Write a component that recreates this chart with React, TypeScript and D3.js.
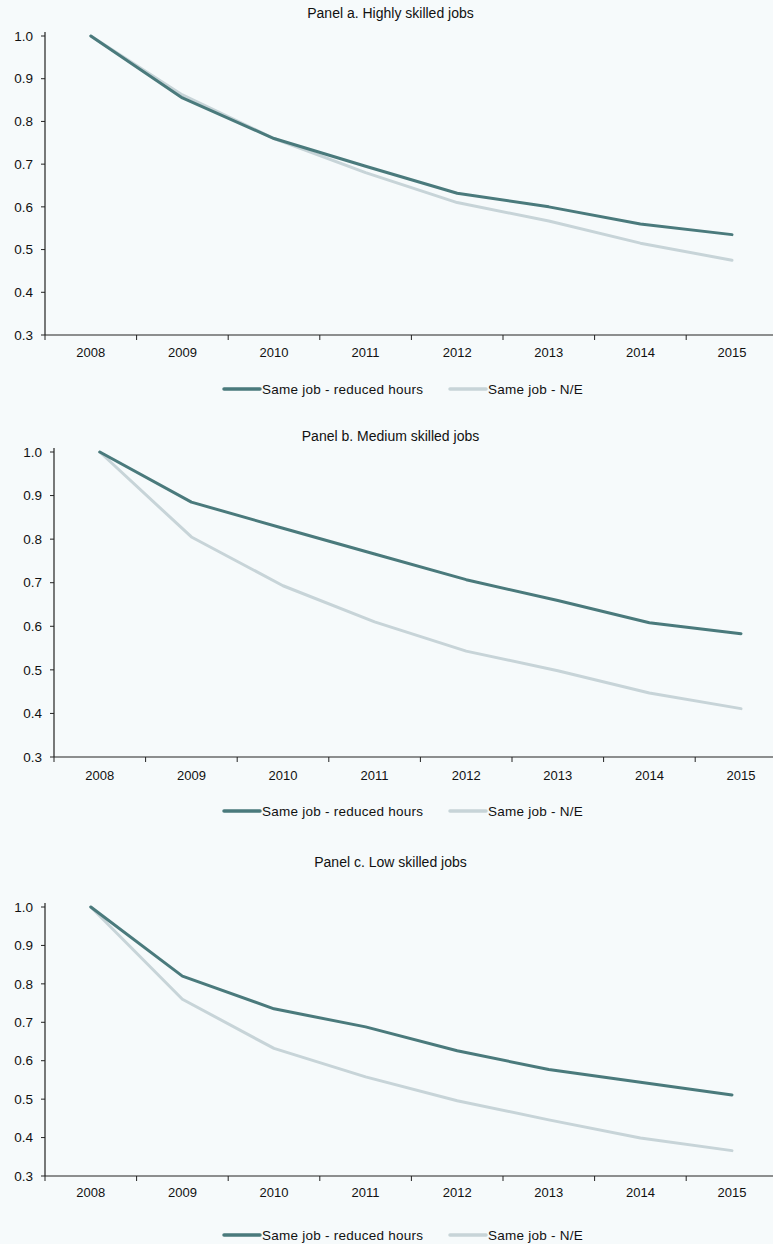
import React, { useEffect, useRef } from "react";
import * as d3 from "d3";

const years = ["2008", "2009", "2010", "2011", "2012", "2013", "2014", "2015"];
const yTicks = [0.3, 0.4, 0.5, 0.6, 0.7, 0.8, 0.9, 1.0];
const seriesNames = ["Same job - reduced hours", "Same job - N/E"];

const highReduced = [1.0, 0.855, 0.76, 0.695, 0.632, 0.6, 0.56, 0.535];
const highNE = [1.0, 0.862, 0.76, 0.68, 0.61, 0.567, 0.515, 0.475];
const medReduced = [1.0, 0.885, 0.825, 0.766, 0.707, 0.659, 0.608, 0.583];
const medNE = [1.0, 0.805, 0.693, 0.61, 0.543, 0.498, 0.447, 0.411];
const lowReduced = [1.0, 0.82, 0.735, 0.688, 0.626, 0.577, 0.544, 0.511];
const lowNE = [1.0, 0.76, 0.632, 0.558, 0.496, 0.446, 0.399, 0.366];

const titles = [
  "Panel a. Highly skilled jobs",
  "Panel b. Medium skilled jobs",
  "Panel c. Low skilled jobs",
];

const panelData = [
  [highReduced, highNE],
  [medReduced, medNE],
  [lowReduced, lowNE],
];

// layout (positions only)
const layouts = [
  { titleY: 18, yTop: 36, yBottom: 335, left: 45, yearY: 357, legendY: 389 },
  { titleY: 441, yTop: 452, yBottom: 757, left: 54, yearY: 780, legendY: 811 },
  { titleY: 867, yTop: 907, yBottom: 1176, left: 45, yearY: 1197, legendY: 1235 },
];

const COLORS = ["#4a7a7c", "#c7d4d8"];
const BG = "#f6fafb";
const W = 773;
const H = 1244;
const BAND = 91.6;
const FONT = "'Liberation Sans', Arial, sans-serif";

export default function App() {
  const ref = useRef<SVGSVGElement | null>(null);

  useEffect(() => {
    const svg = d3.select(ref.current);
    svg.selectAll("*").remove();
    svg.append("rect").attr("width", W).attr("height", H).attr("fill", BG);

    layouts.forEach((lay, pi) => {
      const g = svg.append("g");
      const x = d3
        .scaleBand()
        .domain(years)
        .range([lay.left, lay.left + BAND * years.length]);
      const y = d3.scaleLinear().domain([0.3, 1.0]).range([lay.yBottom, lay.yTop]);

      // title
      g.append("text")
        .attr("x", W / 2 + 4)
        .attr("y", lay.titleY)
        .attr("text-anchor", "middle")
        .attr("font-family", FONT)
        .attr("font-size", 14)
        .attr("fill", "#111")
        .text(titles[pi]);

      // y axis
      g.append("line")
        .attr("x1", lay.left).attr("x2", lay.left)
        .attr("y1", lay.yTop - 4).attr("y2", lay.yBottom)
        .attr("stroke", "#222").attr("stroke-width", 1.2);
      yTicks.forEach((t) => {
        g.append("line")
          .attr("x1", lay.left - 4).attr("x2", lay.left)
          .attr("y1", y(t)).attr("y2", y(t))
          .attr("stroke", "#222").attr("stroke-width", 1);
        g.append("text")
          .attr("x", lay.left - 12)
          .attr("y", y(t))
          .attr("dy", "0.35em")
          .attr("text-anchor", "end")
          .attr("font-family", FONT)
          .attr("font-size", 13.5)
          .attr("fill", "#111")
          .text(d3.format(".1f")(t));
      });

      // x axis
      g.append("line")
        .attr("x1", lay.left).attr("x2", W)
        .attr("y1", lay.yBottom).attr("y2", lay.yBottom)
        .attr("stroke", "#222").attr("stroke-width", 1.2);
      years.forEach((yr) => {
        const bx = x(yr) as number;
        g.append("line")
          .attr("x1", bx).attr("x2", bx)
          .attr("y1", lay.yBottom).attr("y2", lay.yBottom + 5)
          .attr("stroke", "#222").attr("stroke-width", 1);
        g.append("text")
          .attr("x", bx + x.bandwidth() / 2)
          .attr("y", lay.yearY)
          .attr("text-anchor", "middle")
          .attr("font-family", FONT)
          .attr("font-size", 13)
          .attr("fill", "#111")
          .text(yr);
      });

      // lines (light first, dark on top)
      const line = d3
        .line<number>()
        .x((_, i) => (x(years[i]) as number) + x.bandwidth() / 2)
        .y((d) => y(d))
        .curve(d3.curveLinear);
      [1, 0].forEach((si) => {
        g.append("path")
          .attr("d", line(panelData[pi][si]) || "")
          .attr("fill", "none")
          .attr("stroke", COLORS[si])
          .attr("stroke-width", 3)
          .attr("stroke-linecap", "round")
          .attr("stroke-linejoin", "round");
      });

      // legend
      const legX = [224, 450];
      seriesNames.forEach((name, si) => {
        g.append("line")
          .attr("x1", legX[si]).attr("x2", legX[si] + 36)
          .attr("y1", lay.legendY).attr("y2", lay.legendY)
          .attr("stroke", COLORS[si]).attr("stroke-width", 3.5)
          .attr("stroke-linecap", "round");
        g.append("text")
          .attr("x", legX[si] + 38)
          .attr("y", lay.legendY)
          .attr("dy", "0.35em")
          .attr("font-family", FONT)
          .attr("font-size", 13.5)
          .attr("letter-spacing", 0.25)
          .attr("fill", "#111")
          .text(name);
      });
    });
  }, []);

  return (
    <div style={{ position: "absolute", left: 0, top: 0 }}>
      <svg ref={ref} width={W} height={H} style={{ display: "block" }} />
    </div>
  );
}
